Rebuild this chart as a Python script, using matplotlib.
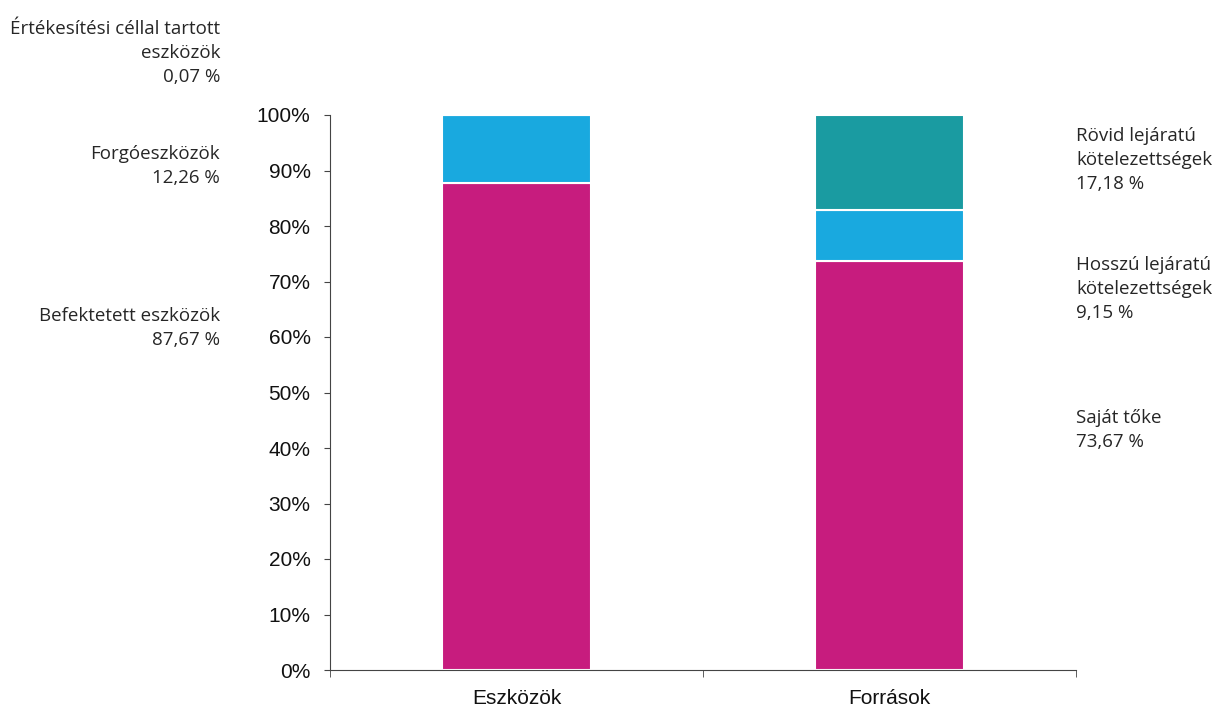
import numpy as np
import matplotlib.pyplot as plt
from matplotlib.ticker import FixedLocator

categories = ["Eszközök", "Források"]

# szegmensek alulról felfelé
eszkozok_labels = ["Befektetett eszközök", "Forgóeszközök", "Értékesítési céllal tartott\neszközök"]
eszkozok_values = [87.67, 12.26, 0.07]
forrasok_labels = ["Saját tőke", "Hosszú lejáratú\nkötelezettségek", "Rövid lejáratú\nkötelezettségek"]
forrasok_values = [73.67, 9.15, 17.18]

eszkozok_colors = ["#C71C7E", "#19A9DF", "#19A9DF"]
forrasok_colors = ["#C71C7E", "#19A9DF", "#1A9BA1"]

yticks = np.arange(0, 101, 10)

plt.rcParams["font.family"] = ["Liberation Sans", "DejaVu Sans"]
fig = plt.figure(figsize=(12.2, 7.08), dpi=100)
ax = fig.add_axes([330 / 1220, 1 - 670 / 708, 746 / 1220, 555 / 708])

x = np.arange(len(categories))
width = 0.4
for i, (vals, cols) in enumerate([(eszkozok_values, eszkozok_colors), (forrasok_values, forrasok_colors)]):
    bottom = 0
    for v, c in zip(vals, cols):
        ax.bar(x[i], v, width, bottom=bottom, color=c, edgecolor="white", linewidth=1.5)
        bottom += v

ax.set_xlim(-0.5, 1.5)
ax.set_ylim(0, 100)
ax.set_yticks(yticks)
ax.set_yticklabels([f"{t}%" for t in yticks], fontsize=15, color="#111111")
ax.set_xticks(x)
ax.set_xticklabels(categories, fontsize=15, color="#111111")
ax.tick_params(axis="x", which="major", length=0, pad=14)
ax.xaxis.set_minor_locator(FixedLocator([-0.5, 0.5, 1.5]))
ax.tick_params(axis="x", which="minor", length=5, color="#444444")
ax.tick_params(axis="y", length=4, color="#444444", pad=10)
for s in ["top", "right"]:
    ax.spines[s].set_visible(False)
for s in ["left", "bottom"]:
    ax.spines[s].set_color("#444444")

lab_font = ["Open Sans", "DejaVu Sans"]
txt_color = "#262626"

# bal oldali feliratok
left_pos = [(328, eszkozok_labels[0], eszkozok_values[0]),
            (166, eszkozok_labels[1], eszkozok_values[1]),
            (53, eszkozok_labels[2], eszkozok_values[2])]
for ypx, lab, v in left_pos:
    fig.text(220 / 1220, 1 - ypx / 708, f"{lab}\n{v:.2f} %".replace(".", ","),
             ha="right", va="center", fontsize=13.5, family=lab_font,
             color=txt_color, linespacing=1.45)

# jobb oldali feliratok
right_pos = [(430, forrasok_labels[0], forrasok_values[0]),
             (289, forrasok_labels[1], forrasok_values[1]),
             (160, forrasok_labels[2], forrasok_values[2])]
for ypx, lab, v in right_pos:
    fig.text(1076 / 1220, 1 - ypx / 708, f"{lab}\n{v:.2f} %".replace(".", ","),
             ha="left", va="center", fontsize=13.5, family=lab_font,
             color=txt_color, linespacing=1.45)

fig.savefig("out.png", dpi=100)
